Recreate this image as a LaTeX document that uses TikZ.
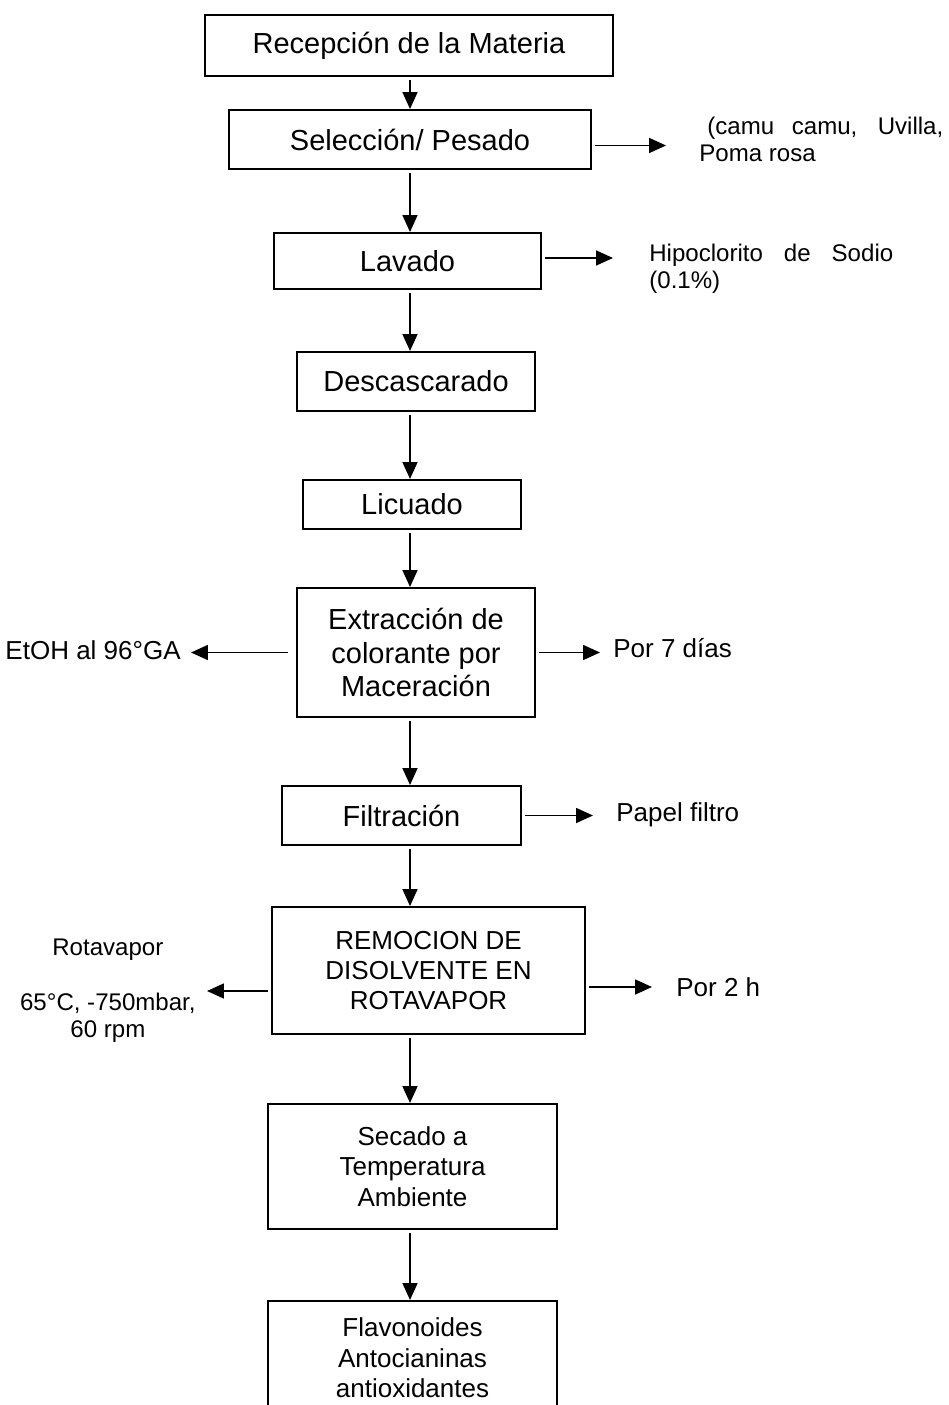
\documentclass[tikz,border=0pt]{standalone}
\usepackage{fontspec}
\setmainfont{Liberation Sans}
\usepackage{tikz}
\usetikzlibrary{arrows.meta, positioning}
\tikzset{
  pstep/.style={
    rectangle, draw, line width=1.1pt, inner sep=0pt,
    align=center, font=\fontsize{16.5}{19}\selectfont},
  lstep/.style={
    pstep, font=\fontsize{14.8}{17.3}\selectfont},
  note/.style={
    inner sep=0pt, align=left, font=\fontsize{14.8}{17.3}\selectfont},
  snote/.style={
    note, font=\fontsize{13.7}{15.4}\selectfont},
  arr/.style={-{Triangle[length=0.34cm, width=0.3cm]}, line width=0.95pt,
    shorten <=2pt},
}

\begin{document}
\begin{tikzpicture}[x=0.02cm, y=-0.02cm]
  \useasboundingbox (0,0) rectangle (948,1405);
  \coordinate (axis) at (410,0);
  % main line
  \node[pstep, minimum width=8.16cm, minimum height=1.22cm] (recep) at (409,45.5)
    {Recepción de la Materia};
  \node[pstep, minimum width=7.24cm, minimum height=1.18cm] (selec) at (410,139.5)
    {Selección/ Pesado};
  \node[pstep, minimum width=5.34cm, minimum height=1.12cm] (lavado) at (407.5,261)
    {Lavado};
  \node[pstep, minimum width=4.76cm, minimum height=1.18cm] (descas) at (416,381.5)
    {Descascarado};
  \node[pstep, minimum width=4.36cm, minimum height=0.98cm] (licuado) at (412,504.5)
    {Licuado};
  \node[pstep, minimum width=4.76cm, minimum height=2.58cm] (extrac) at (416,652.5)
    {Extracción de\\colorante por\\Maceración};
  \node[pstep, minimum width=4.78cm, minimum height=1.18cm] (filtra) at (401.5,815.5)
    {Filtración};
  \node[lstep, minimum width=6.26cm, minimum height=2.54cm] (remoc) at (428.5,970.5)
    {REMOCION DE\\DISOLVENTE EN\\ROTAVAPOR};
  \node[lstep, minimum width=5.78cm, minimum height=2.5cm] (secado) at (412.5,1166.5)
    {Secado a\\Temperatura\\Ambiente};
  \node[lstep, minimum width=5.78cm, minimum height=2.28cm] (flavo) at (412.5,1358)
    {Flavonoides\\Antocianinas\\antioxidantes};
  % side notes
  \node[snote, anchor=west] (fruta) at (699,139)
    {\hspace{0.16cm}\makebox[4.72cm][s]{(camu camu, Uvilla,}\\Poma rosa};
  \node[snote, anchor=west] (hipo) at (649,269)
    {\makebox[4.88cm][s]{Hipoclorito de Sodio}\\(0.1\%)};
  \node[note, anchor=east] (etoh) at (181,650) {EtOH al 96°GA};
  \node[note, anchor=west] (dias) at (613,648) {Por 7 días};
  \node[note, anchor=west] (papel) at (616,815) {Papel filtro};
  \node[snote, anchor=east, align=center] (rota) at (196,991)
    {Rotavapor\\[16pt]65°C, -750mbar,\\60 rpm};
  \node[note, anchor=west] (por2h) at (676,987) {Por 2 h};
  % arrows down
  \draw[arr] (recep.south -| axis) -- (selec.north -| axis);
  \draw[arr] (selec.south -| axis) -- (lavado.north -| axis);
  \draw[arr] (lavado.south -| axis) -- (descas.north -| axis);
  \draw[arr] (descas.south -| axis) -- (licuado.north -| axis);
  \draw[arr] (licuado.south -| axis) -- (extrac.north -| axis);
  \draw[arr] (extrac.south -| axis) -- (filtra.north -| axis);
  \draw[arr] (filtra.south -| axis) -- (remoc.north -| axis);
  \draw[arr] (remoc.south -| axis) -- (secado.north -| axis);
  \draw[arr] (secado.south -| axis) -- (flavo.north -| axis);
  % arrows to the sides
  \draw[arr, shorten >=0.66cm] ([yshift=-0.12cm]selec.east)
    -- ([yshift=-0.12cm]selec.east -| fruta.west);
  \draw[arr, shorten >=0.72cm] ([yshift=0.06cm]lavado.east)
    -- ([yshift=0.06cm]lavado.east -| hipo.west);
  \draw[arr, shorten <=0.16cm, shorten >=0.2cm] (extrac.west) -- (extrac.west -| etoh.east);
  \draw[arr, shorten >=0.26cm] (extrac.east) -- (extrac.east -| dias.west);
  \draw[arr, shorten >=0.46cm] (filtra.east) -- (filtra.east -| papel.west);
  \draw[arr, shorten >=0.22cm] (remoc.west |- rota.east) -- (rota.east);
  \draw[arr, shorten >=0.48cm] (remoc.east |- por2h.west) -- (por2h.west);
\end{tikzpicture}
\end{document}
